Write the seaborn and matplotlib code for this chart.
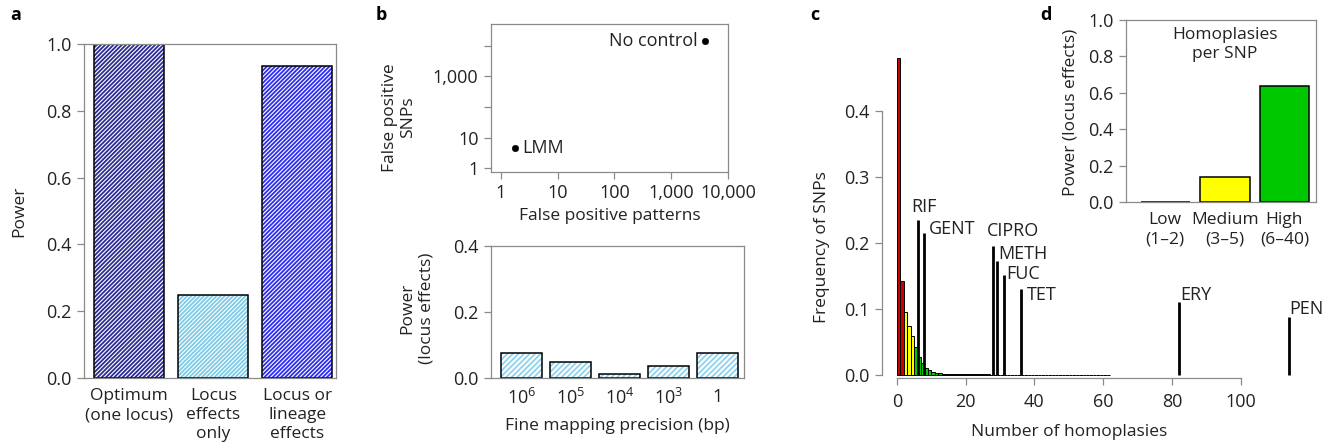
import matplotlib
matplotlib.use("Agg")
import matplotlib.pyplot as plt
import numpy as np
import pandas as pd
import seaborn as sns

sns.set_theme(style="ticks")
plt.rcParams["font.family"] = ["Open Sans", "DejaVu Sans"]
plt.rcParams["font.size"] = 12
plt.rcParams["text.color"] = "#222222"
plt.rcParams["axes.labelcolor"] = "#222222"
plt.rcParams["axes.edgecolor"] = "#8a8a8a"
plt.rcParams["axes.linewidth"] = 0.9
plt.rcParams["xtick.color"] = "#8a8a8a"
plt.rcParams["ytick.color"] = "#8a8a8a"
plt.rcParams["xtick.labelcolor"] = "#222222"
plt.rcParams["ytick.labelcolor"] = "#222222"
plt.rcParams["hatch.linewidth"] = 1.3

W, H = 1334, 445

# --- panel a: power of study designs
design_labels = ["Optimum\n(one locus)", "Locus\neffects\nonly", "Locus or\nlineage\neffects"]
design_power = [1.0, 0.25, 0.935]
design_hatch_colors = ["#2c2c96", "#7ecbe8", "#2e2ef0"]

# --- panel b (top): false positives per method
method_names = ["LMM", "No control"]
fp_patterns = [1.8, 3900]
fp_snps = [4.5, 15000]

# --- panel b (bottom): fine mapping precision
precision_labels = [r"$\mathregular{10^6}$", r"$\mathregular{10^5}$",
                    r"$\mathregular{10^4}$", r"$\mathregular{10^3}$", "1"]
precision_power = [0.075, 0.05, 0.012, 0.037, 0.075]

# --- panel c: homoplasy distribution (bins of width 1, counts 1..62)
homoplasy_freq = [
    0.480, 0.143, 0.095, 0.074, 0.059, 0.042, 0.027, 0.018, 0.011, 0.0076,
    0.005, 0.0035, 0.0025, 0.002, 0.0016, 0.0013, 0.0011, 0.001, 0.001, 0.001,
    0.0011, 0.0012, 0.0013, 0.0014, 0.0012, 0.001, 0.0009, 0.0008, 0.0007, 0.0007,
    0.0006, 0.0005, 0.0005, 0.0005, 0.0005, 0.0004, 0.0004, 0.0004, 0.0004, 0.0004,
    0.0003, 0.0003, 0.0003, 0.0003, 0.0003, 0.0003, 0.0003, 0.0003, 0.0003, 0.0003,
    0.0003, 0.0003, 0.0003, 0.0003, 0.0003, 0.0003, 0.0003, 0.0003, 0.0003, 0.0003,
    0.0003, 0.0003,
]
drug_names = ["RIF", "GENT", "CIPRO", "METH", "FUC", "TET", "ERY", "PEN"]
drug_homoplasies = [6, 8, 28, 29, 31, 36, 82, 114]
drug_freq = [0.235, 0.215, 0.195, 0.173, 0.152, 0.131, 0.110, 0.088]

# --- panel d: power by homoplasy class
class_labels = ["Low\n(1\u20132)", "Medium\n(3\u20135)", "High\n(6\u201340)"]
class_power = [0.002, 0.137, 0.637]
class_colors = ["white", "#ffff00", "#00c800"]


def hatched_bars(ax, labels, values, hatch_colors, hatch, width):
    sns.barplot(x=labels, y=values, color="white", width=width, linewidth=0, ax=ax)
    n = len(ax.patches)
    for patch, col in zip(ax.patches, hatch_colors):
        patch.set_hatch(hatch)
        patch.set_edgecolor(col)
        patch.set_linewidth(0)
    sns.barplot(x=labels, y=values, color="white", width=width, ax=ax)
    for patch in ax.patches[n:]:
        patch.set_facecolor("none")
        patch.set_edgecolor("black")
        patch.set_linewidth(1.1)


def style_ticks(ax):
    ax.tick_params(length=5, width=0.9, pad=4, labelsize=13)


fig = plt.figure(figsize=(W / 100, H / 100), dpi=100)

# ---------------- a
ax_a = fig.add_axes([84 / W, 1 - 378 / H, 252 / W, 334 / H])
hatched_bars(ax_a, design_labels, design_power, design_hatch_colors, "////////", 0.833)
ax_a.set_xlim(-0.54, 2.46)
ax_a.set_ylim(0, 1.0)
ax_a.set_yticks(np.arange(0, 1.01, 0.2))
ax_a.set_yticklabels([f"{v:.1f}" for v in np.arange(0, 1.01, 0.2)])
style_ticks(ax_a)
ax_a.tick_params(axis="x", length=0, pad=7, labelsize=12.5)
for lab in ax_a.get_xticklabels():
    lab.set_linespacing(1.28)
ax_a.set_ylabel("Power", fontsize=12.5)
ax_a.yaxis.set_label_coords(-0.225, 0.5)

# ---------------- b top
ax_b1 = fig.add_axes([491 / W, 1 - 172 / H, 237 / W, 148 / H])
sns.scatterplot(x=fp_patterns, y=fp_snps, color="black", s=22, edgecolor="black", ax=ax_b1)
ax_b1.set_xscale("log")
ax_b1.set_yscale("log")
ax_b1.set_xlim(0.667, 10000)
ax_b1.set_ylim(0.74, 52500)
ax_b1.set_xticks([1, 10, 100, 1000, 10000])
ax_b1.set_xticklabels(["1", "10", "100", "1,000", "10,000"])
ax_b1.set_yticks([1, 10, 100, 1000, 10000])
ax_b1.set_yticklabels(["1", "10", "", "1,000", ""])
ax_b1.minorticks_off()
style_ticks(ax_b1)
for name, xv, yv in zip(method_names, fp_patterns, fp_snps):
    if xv < 100:
        ax_b1.annotate(name, (xv, yv), xytext=(5, 0), textcoords="offset points",
                       ha="left", va="center", fontsize=13)
    else:
        ax_b1.annotate(name, (xv, yv), xytext=(-5, 0), textcoords="offset points",
                       ha="right", va="center", fontsize=13)
ax_b1.set_xlabel("False positive patterns", fontsize=12.5, labelpad=4)
ax_b1.set_ylabel("False positive\nSNPs", fontsize=12.5)
ax_b1.yaxis.set_label_coords(-0.315, 0.37)

# ---------------- b bottom
ax_b2 = fig.add_axes([491 / W, 1 - 378 / H, 253 / W, 132 / H])
hatched_bars(ax_b2, precision_labels, precision_power, ["#8fd2ee"] * 5, "//////", 0.837)
ax_b2.set_xlim(-0.62, 4.54)
ax_b2.set_ylim(0, 0.4)
ax_b2.set_yticks([0, 0.2, 0.4])
ax_b2.set_yticklabels(["0.0", "0.2", "0.4"])
style_ticks(ax_b2)
ax_b2.tick_params(axis="x", length=0, pad=7)
ax_b2.set_xlabel("Fine mapping precision (bp)", fontsize=12.5, labelpad=7)
ax_b2.set_ylabel("Power\n(locus effects)", fontsize=12.5)
ax_b2.yaxis.set_label_coords(-0.225, 0.53)

# ---------------- c
ax_c = fig.add_axes([882 / W, 1 - 378 / H, 418 / W, 328 / H])
counts = np.arange(1, len(homoplasy_freq) + 1)
groups = np.where(counts <= 2, "low", np.where(counts <= 5, "medium",
                  np.where(counts <= 40, "high", "rest")))
hist_df = pd.DataFrame({"homoplasies": counts - 0.5, "freq": homoplasy_freq, "group": groups})
sns.barplot(data=hist_df, x="homoplasies", y="freq", hue="group", native_scale=True,
            hue_order=["low", "medium", "high", "rest"],
            palette={"low": "#cc0000", "medium": "#ffff00", "high": "#00c800", "rest": "white"},
            width=1, dodge=False, saturation=1, edgecolor="black", linewidth=0.7,
            legend=False, ax=ax_c)
ax_c.vlines(drug_homoplasies, 0, drug_freq, color="black", lw=2.0)
label_shift = {"RIF": (-1.9, 0.012), "GENT": (1.3, -0.002), "CIPRO": (-1.9, 0.015),
               "METH": (0.6, 0.003), "FUC": (0.9, -0.007), "TET": (1.8, -0.017),
               "ERY": (0.4, 0.004), "PEN": (0.3, 0.004)}
for name, xv, yv in zip(drug_names, drug_homoplasies, drug_freq):
    dx, dy = label_shift[name]
    ax_c.text(xv + dx, yv + dy, name, ha="left", va="baseline", fontsize=13)
ax_c.set_xlim(-4.37, 117.3)
ax_c.set_ylim(-0.0045, 0.4924)
ax_c.set_xticks([0, 20, 40, 60, 80, 100])
ax_c.set_xticklabels(["0", "20", "40", "60", "80", "100"])
ax_c.set_yticks([0, 0.1, 0.2, 0.3, 0.4])
ax_c.set_yticklabels(["0.0", "0.1", "0.2", "0.3", "0.4"])
ax_c.spines["top"].set_visible(False)
ax_c.spines["right"].set_visible(False)
ax_c.spines["left"].set_bounds(0, 0.4)
ax_c.spines["bottom"].set_bounds(0, 100)
style_ticks(ax_c)
ax_c.tick_params(axis="x", pad=6)
ax_c.set_xlabel("Number of homoplasies", fontsize=12.5)
ax_c.xaxis.set_label_coords(0.447, -0.14)
ax_c.set_ylabel("Frequency of SNPs", fontsize=12.5)
ax_c.yaxis.set_label_coords(-0.125, 0.40)

# ---------------- d (inset)
ax_d = fig.add_axes([1126 / W, 1 - 202 / H, 190 / W, 182 / H])
ax_d.set_facecolor("white")
sns.barplot(x=class_labels, y=class_power, hue=class_labels, palette=class_colors,
            width=0.83, edgecolor="black", linewidth=1.1, legend=False, saturation=1, ax=ax_d)
ax_d.set_xlim(-0.66, 2.53)
ax_d.set_ylim(0, 1.0)
ax_d.set_yticks(np.arange(0, 1.01, 0.2))
ax_d.set_yticklabels([f"{v:.1f}" for v in np.arange(0, 1.01, 0.2)])
style_ticks(ax_d)
ax_d.tick_params(axis="x", length=0, pad=7, labelsize=12.5)
for lab in ax_d.get_xticklabels():
    lab.set_linespacing(1.3)
ax_d.text(1.0, 0.865, "Homoplasies\nper SNP", ha="center", va="center", fontsize=12.5,
          linespacing=1.3)
ax_d.set_ylabel("Power (locus effects)", fontsize=12.5)
ax_d.yaxis.set_label_coords(-0.25, 0.49)

# panel letters
for letter, px, py in [("a", 10, 20), ("b", 376, 20), ("c", 810, 20), ("d", 1040, 20)]:
    fig.text(px / W, 1 - py / H, letter, fontsize=13, fontweight="bold", ha="left", va="baseline",
             color="black")

fig.savefig("out.png", dpi=100)
plt.close(fig)
